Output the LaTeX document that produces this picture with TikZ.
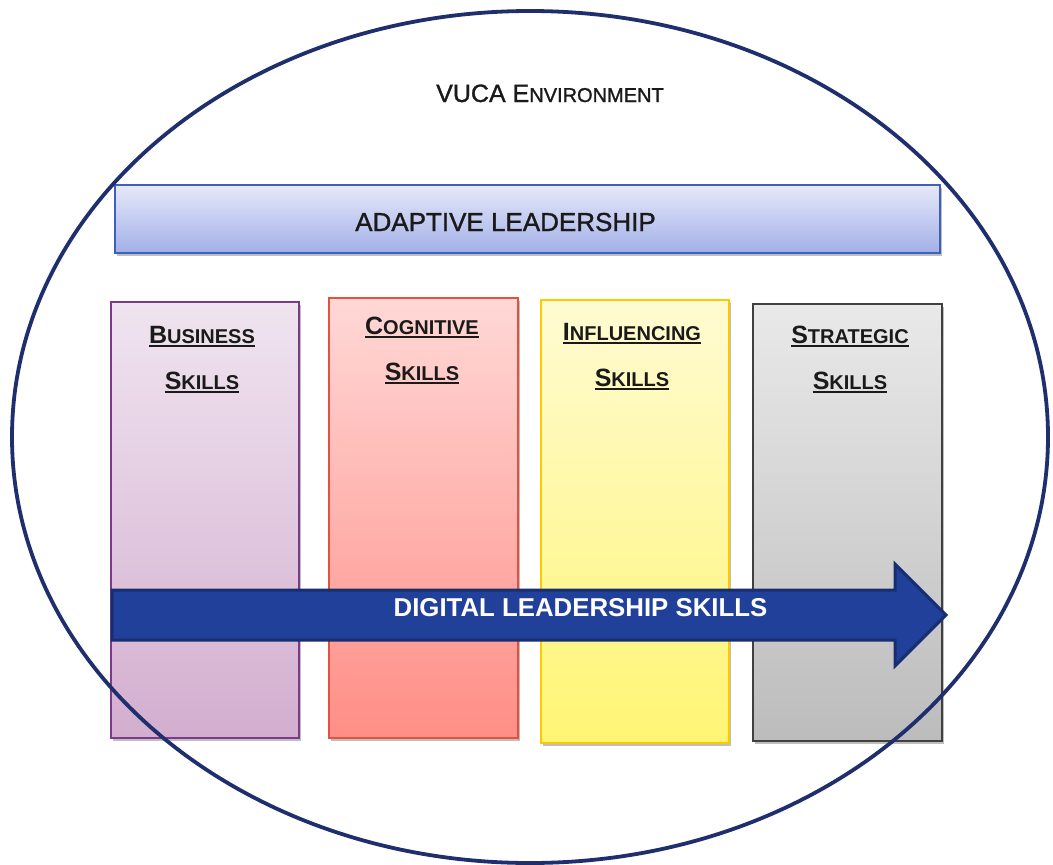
\documentclass[tikz,border=0pt]{standalone}
\usepackage{fontspec}
\setmainfont{Liberation Sans}
\newfontfamily\medfont[FakeBold=1.2]{Liberation Sans}
\usetikzlibrary{shadows}
\definecolor{navy}{HTML}{1F2F6E}
\definecolor{txt}{HTML}{1A1A1A}
\definecolor{barTop}{HTML}{E6E8F9}
\definecolor{barBot}{HTML}{A2B0E8}
\definecolor{barLine}{HTML}{3F5FBF}
\definecolor{busTop}{HTML}{F0E4F0}
\definecolor{busBot}{HTML}{D3AECF}
\definecolor{busLine}{HTML}{7B3A8C}
\definecolor{cogTop}{HTML}{FFD8D6}
\definecolor{cogBot}{HTML}{FF8E86}
\definecolor{cogLine}{HTML}{E8503E}
\definecolor{infTop}{HTML}{FFFBD2}
\definecolor{infBot}{HTML}{FFF574}
\definecolor{infLine}{HTML}{FFC800}
\definecolor{strTop}{HTML}{E9E9E9}
\definecolor{strBot}{HTML}{BCBCBC}
\definecolor{strLine}{HTML}{404040}
\definecolor{arrFill}{HTML}{21409A}
\definecolor{arrLine}{HTML}{172F70}
\newcommand{\mysc}[4]{{\fontsize{#3}{#3}\selectfont #1}{\fontsize{#4}{#4}\selectfont #2}}
\newcommand{\myul}[1]{\setbox0\hbox{#1}\rlap{\rule[-4pt]{\wd0}{1.8pt}}\box0}
\tikzset{
  colbox/.style={draw, line width=1.3pt, minimum width=#1, inner sep=0pt,
    drop shadow={shadow xshift=1.5pt, shadow yshift=-3pt, opacity=0.25, fill=black}},
  skilltxt/.style={text=txt, font=\bfseries, inner sep=0pt, anchor=base},
}
\begin{document}
\begin{tikzpicture}[x=1pt,y=-1pt]
\useasboundingbox (0,0) rectangle (1053,865);
\fill[white] (0,0) rectangle (1053,865);
% Adaptive leadership bar
\node[draw=barLine, line width=1.5pt, top color=barTop, bottom color=barBot,
  minimum width=825pt, minimum height=68pt, inner sep=0pt,
  drop shadow={shadow xshift=1.5pt, shadow yshift=-3pt, opacity=0.25, fill=black}]
  (adaptive) at (527.5,219) {};
\node[text=txt, font=\medfont\fontsize{26}{26}\selectfont, inner sep=0pt, anchor=base]
  (adaptivetxt) at (505.5,231) {ADAPTIVE LEADERSHIP};
% Columns
\node[colbox=188pt, minimum height=436pt, draw=busLine, top color=busTop, bottom color=busBot] (business) at (205,520) {};
\node[colbox=189pt, minimum height=440pt, draw=cogLine, top color=cogTop, bottom color=cogBot] (cognitive) at (423.5,518) {};
\node[colbox=188pt, minimum height=443pt, draw=infLine, top color=infTop, bottom color=infBot] (influencing) at (635,521.5) {};
\node[colbox=189pt, minimum height=437pt, draw=strLine, top color=strTop, bottom color=strBot] (strategic) at (847.5,522.5) {};
% Column labels
\node[skilltxt] (bus1) at (202,343) {\myul{\mysc{B}{USINESS}{25}{20}}};
\node[skilltxt] (bus2) at (202,389) {\myul{\mysc{S}{KILLS}{25}{20}}};
\node[skilltxt] (cog1) at (422,334) {\myul{\mysc{C}{OGNITIVE}{25}{20}}};
\node[skilltxt] (cog2) at (422,380) {\myul{\mysc{S}{KILLS}{25}{20}}};
\node[skilltxt] (inf1) at (632,340) {\myul{\mysc{I}{NFLUENCING}{25}{20}}};
\node[skilltxt] (inf2) at (632,386) {\myul{\mysc{S}{KILLS}{25}{20}}};
\node[skilltxt] (str1) at (850,343) {\myul{\mysc{S}{TRATEGIC}{25}{20}}};
\node[skilltxt] (str2) at (850,389) {\myul{\mysc{S}{KILLS}{25}{20}}};
% Digital leadership arrow
\filldraw[fill=arrFill, draw=arrLine, line width=3pt, line join=miter]
  (112,590) -- (895,590) -- (895,564) -- (946,615) -- (895,666) -- (895,640) -- (112,640) -- cycle;
\node[text=white, font=\bfseries\fontsize{25.8}{25.8}\selectfont, inner sep=0pt, anchor=base]
  (digital) at (580.5,616) {DIGITAL LEADERSHIP SKILLS};
% VUCA environment ellipse and title
\draw[navy, line width=3.8pt] (530,437) ellipse [x radius=518pt, y radius=426pt];
\node[text=txt, font=\medfont, inner sep=0pt, anchor=base] (vuca) at (550,102) {\mysc{VUCA E}{NVIRONMENT}{25}{20}};
\end{tikzpicture}
\end{document}
